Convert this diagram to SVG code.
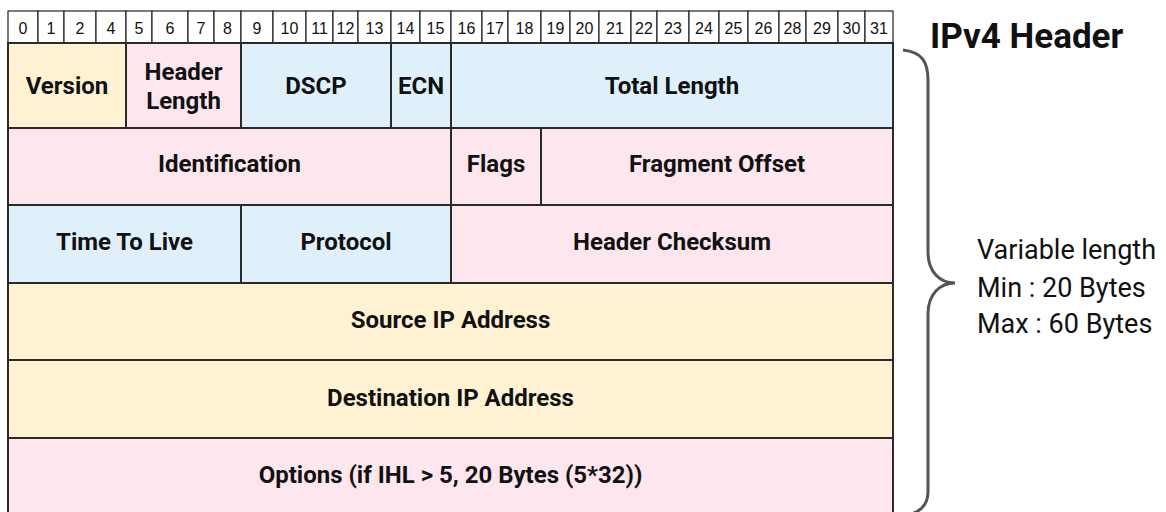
<svg xmlns="http://www.w3.org/2000/svg" width="1166" height="512" viewBox="0 0 1166 512">
<style>
.bit{fill:#fff;stroke:#222;stroke-width:1.2}
.bt{font-family:"Liberation Sans",Arial,sans-serif;font-size:16px;fill:#111;text-anchor:middle}
.y{fill:#fff2d3;stroke:#2a2a2a;stroke-width:2}
.p{fill:#fde6ee;stroke:#2a2a2a;stroke-width:2}
.b{fill:#dff0fb;stroke:#2a2a2a;stroke-width:2}
.lb{font-family:Roboto,"Liberation Sans",Arial,sans-serif;font-weight:bold;font-size:24px;fill:#111;text-anchor:middle}
.side{font-family:Roboto,"Liberation Sans",Arial,sans-serif;font-size:27px;fill:#111}
</style>
<rect width="1166" height="512" fill="#fff"/>
<g id="bits">
<rect class="bit" x="8" y="11" width="30" height="32"/><text class="bt" x="23" y="34">0</text>
<rect class="bit" x="38" y="11" width="26" height="32"/><text class="bt" x="51" y="34">1</text>
<rect class="bit" x="64" y="11" width="32" height="32"/><text class="bt" x="80" y="34">2</text>
<rect class="bit" x="96" y="11" width="30" height="32"/><text class="bt" x="111" y="34">4</text>
<rect class="bit" x="126" y="11" width="26" height="32"/><text class="bt" x="139" y="34">5</text>
<rect class="bit" x="152" y="11" width="36" height="32"/><text class="bt" x="170" y="34">6</text>
<rect class="bit" x="188" y="11" width="26" height="32"/><text class="bt" x="201" y="34">7</text>
<rect class="bit" x="214" y="11" width="27" height="32"/><text class="bt" x="227.5" y="34">8</text>
<rect class="bit" x="241" y="11" width="32" height="32"/><text class="bt" x="257" y="34">9</text>
<rect class="bit" x="273" y="11" width="33" height="32"/><text class="bt" x="289.5" y="34">10</text>
<rect class="bit" x="306" y="11" width="27" height="32"/><text class="bt" x="319.5" y="34">11</text>
<rect class="bit" x="333" y="11" width="25" height="32"/><text class="bt" x="345.5" y="34">12</text>
<rect class="bit" x="358" y="11" width="33" height="32"/><text class="bt" x="374.5" y="34">13</text>
<rect class="bit" x="391" y="11" width="29" height="32"/><text class="bt" x="405.5" y="34">14</text>
<rect class="bit" x="420" y="11" width="31" height="32"/><text class="bt" x="435.5" y="34">15</text>
<rect class="bit" x="451" y="11" width="31" height="32"/><text class="bt" x="466.5" y="34">16</text>
<rect class="bit" x="482" y="11" width="26" height="32"/><text class="bt" x="495" y="34">17</text>
<rect class="bit" x="508" y="11" width="33" height="32"/><text class="bt" x="524.5" y="34">18</text>
<rect class="bit" x="541" y="11" width="29" height="32"/><text class="bt" x="555.5" y="34">19</text>
<rect class="bit" x="570" y="11" width="29" height="32"/><text class="bt" x="584.5" y="34">20</text>
<rect class="bit" x="599" y="11" width="32" height="32"/><text class="bt" x="615" y="34">21</text>
<rect class="bit" x="631" y="11" width="26" height="32"/><text class="bt" x="644" y="34">22</text>
<rect class="bit" x="657" y="11" width="32" height="32"/><text class="bt" x="673" y="34">23</text>
<rect class="bit" x="689" y="11" width="30" height="32"/><text class="bt" x="704" y="34">24</text>
<rect class="bit" x="719" y="11" width="29" height="32"/><text class="bt" x="733.5" y="34">25</text>
<rect class="bit" x="748" y="11" width="31" height="32"/><text class="bt" x="763.5" y="34">26</text>
<rect class="bit" x="779" y="11" width="27" height="32"/><text class="bt" x="792.5" y="34">28</text>
<rect class="bit" x="806" y="11" width="32" height="32"/><text class="bt" x="822" y="34">29</text>
<rect class="bit" x="838" y="11" width="27" height="32"/><text class="bt" x="851.5" y="34">30</text>
<rect class="bit" x="865" y="11" width="28" height="32"/><text class="bt" x="879" y="34">31</text>
</g>
<g id="version"><rect class="y" x="8" y="43" width="118" height="85"/><text class="lb" x="67" y="94">Version</text></g>
<g id="header-length"><rect class="p" x="126" y="43" width="115" height="85"/><text class="lb" x="183.5" y="80">Header</text><text class="lb" x="183.5" y="109">Length</text></g>
<g id="dscp"><rect class="b" x="241" y="43" width="150" height="85"/><text class="lb" x="316" y="94">DSCP</text></g>
<g id="ecn"><rect class="b" x="391" y="43" width="60" height="85"/><text class="lb" x="421" y="94">ECN</text></g>
<g id="total-length"><rect class="b" x="451" y="43" width="442" height="85"/><text class="lb" x="672" y="94">Total Length</text></g>
<g id="identification"><rect class="p" x="8" y="128" width="443" height="77"/><text class="lb" x="229.5" y="172">Identification</text></g>
<g id="flags"><rect class="p" x="451" y="128" width="90" height="77"/><text class="lb" x="496" y="172">Flags</text></g>
<g id="fragment-offset"><rect class="p" x="541" y="128" width="352" height="77"/><text class="lb" x="717" y="172">Fragment Offset</text></g>
<g id="ttl"><rect class="b" x="8" y="205" width="233" height="78"/><text class="lb" x="124.5" y="250">Time To Live</text></g>
<g id="protocol"><rect class="b" x="241" y="205" width="210" height="78"/><text class="lb" x="346" y="250">Protocol</text></g>
<g id="checksum"><rect class="p" x="451" y="205" width="442" height="78"/><text class="lb" x="672" y="250">Header Checksum</text></g>
<g id="source"><rect class="y" x="8" y="283" width="885" height="77"/><text class="lb" x="450.5" y="328">Source IP Address</text></g>
<g id="destination"><rect class="y" x="8" y="360" width="885" height="78"/><text class="lb" x="450.5" y="406">Destination IP Address</text></g>
<g id="options"><rect class="p" x="8" y="438" width="885" height="80"/><text class="lb" x="450.5" y="483">Options (if IHL &gt; 5, 20 Bytes (5*32))</text></g>
<g id="brace"><path d="M903,50 C922,52 928,62 928,80 L928,252 C928,272 940,283 955,283 C940,283 928,294 928,314 L928,492 C928,505 920,512 908,515" fill="none" stroke="#555" stroke-width="3"/></g>
<g id="title"><text x="930" y="48" font-family="Roboto,'Liberation Sans',Arial,sans-serif" font-weight="bold" font-size="35" fill="#111">IPv4 Header</text></g>
<g id="note"><text class="side" x="977" y="259">Variable length</text><text class="side" x="977" y="297">Min : 20 Bytes</text><text class="side" x="977" y="333">Max : 60 Bytes</text></g>
</svg>
